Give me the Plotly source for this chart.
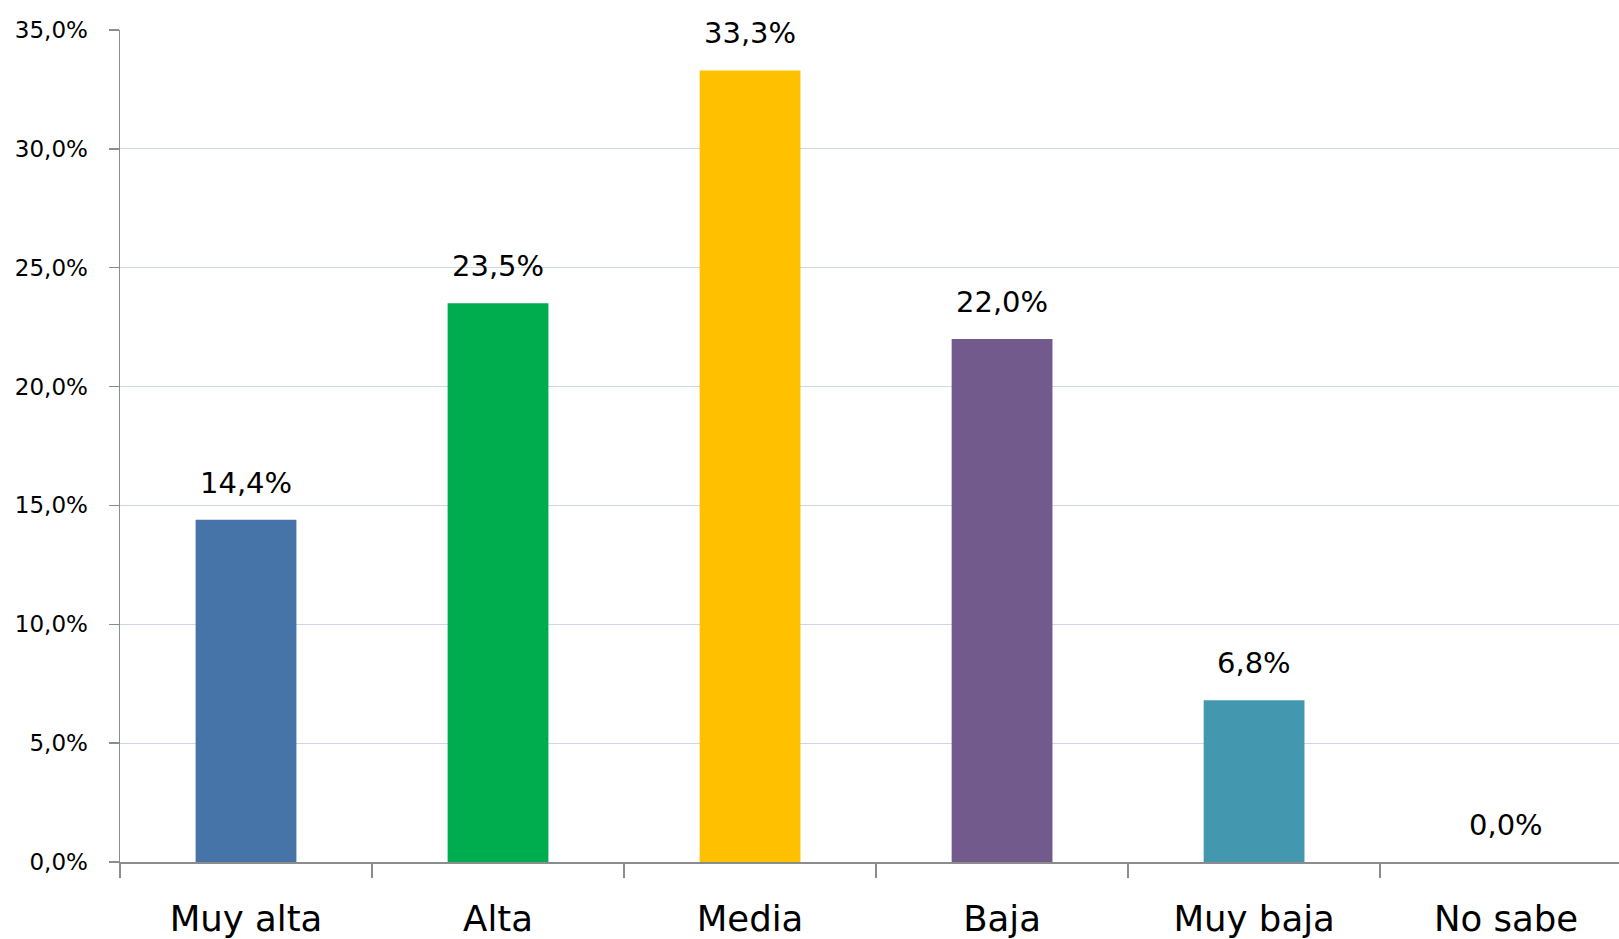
import plotly.graph_objects as go

categories = ["Muy alta", "Alta", "Media", "Baja", "Muy baja", "No sabe"]
values = [14.4, 23.5, 33.3, 22.0, 6.8, 0.0]
labels = ["14,4%", "23,5%", "33,3%", "22,0%", "6,8%", "0,0%"]
colors = ["#4673A8", "#00AD4E", "#FFC000", "#725A8D", "#4398B0", "#FFFFFF"]
ytick_vals = [0, 5, 10, 15, 20, 25, 30, 35]
ytick_text = ["0,0%", "5,0%", "10,0%", "15,0%", "20,0%", "25,0%", "30,0%", "35,0%"]

FONT = "DejaVu Sans"

fig = go.Figure()
fig.add_trace(go.Bar(
    x=categories, y=values, width=0.4,
    marker=dict(color=colors, line=dict(width=0)),
    hoverinfo="skip",
))

for c, v, t in zip(categories, values, labels):
    fig.add_annotation(x=c, y=v, text=t, showarrow=False, yanchor="bottom",
                       yshift=18, font=dict(family=FONT, size=29, color="#000000"))

fig.update_layout(
    width=1619, height=939,
    margin=dict(l=120, r=0, t=30, b=77, autoexpand=False),
    paper_bgcolor="white", plot_bgcolor="white",
    showlegend=False,
    bargap=0.6,
)
fig.update_xaxes(
    range=[-0.5, 5.448], tickson="boundaries", ticks="outside", ticklen=14,
    tickcolor="#8C8C8C", tickwidth=1.5, automargin=False, ticklabelstandoff=25,
    showline=True, linecolor="#8C8C8C", linewidth=1.5,
    showgrid=False, tickfont=dict(family=FONT, size=35.5, color="#000000"),
)
fig.update_yaxes(
    range=[0, 35], tickvals=ytick_vals, ticktext=ytick_text,
    ticks="outside", ticklen=10, tickcolor="#8C8C8C", tickwidth=1.5,
    automargin=False, ticklabelstandoff=16,
    showline=True, linecolor="#8C8C8C", linewidth=1.5,
    showgrid=True, gridcolor="#CAD7E7", gridwidth=1.2, zeroline=False,
    tickfont=dict(family=FONT, size=23, color="#000000"),
)

fig.write_html(
    "out.html",
    config={"displayModeBar": False, "staticPlot": True},
    post_script="document.body.style.margin='0';document.body.style.overflow='hidden';",
)
